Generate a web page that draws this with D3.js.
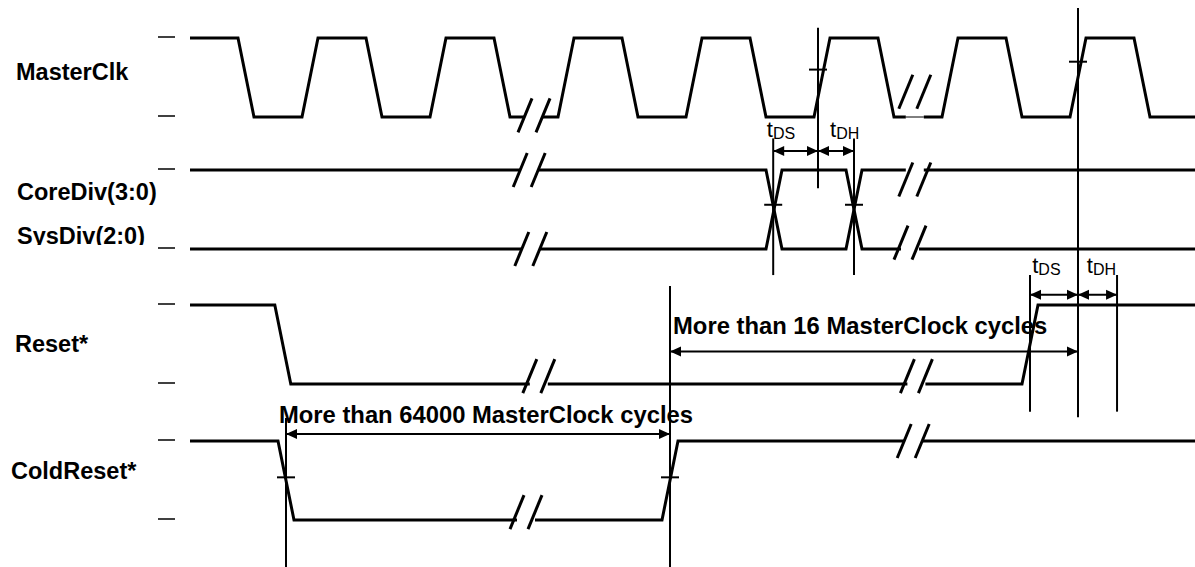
<!DOCTYPE html>
<html>
<head>
<meta charset="utf-8">
<script src="https://cdn.jsdelivr.net/npm/d3@7"></script>
<style>
  html, body { margin: 0; padding: 0; background: #fff; }
  svg { display: block; font-family: "Liberation Sans", Arial, sans-serif; }
</style>
</head>
<body>
<div id="chart"></div>
<script>
// time unit: one MasterClk period = 8 units, every edge takes 1 unit
const tEnd = 62.8125;
const rowNames = ["MasterClk", "CoreDiv(3:0)", "SysDiv(2:0)", "Reset*", "ColdReset*"];
const labelRow = [0, 1, 1, 2, 3];

// [start of edge, new level]
const clkEdges = [[3,0],[7,1],[11,0],[15,1],[19,0],[23,1],[27,0],[31,1],[35,0],[39,1],[43,0],[47,1],[51,0],[55,1],[59,0]];
const busChanges = [36, 41];
const resetEdges = [[5.3,0],[52,1]];
const coldResetEdges = [[5.5,0],[29.5,1]];

// time breaks "//" : row, time, level of the line, lift of the marks
const breaks = [
  {row:0, t:21.5, level:0, lift:0.02}, {row:0, t:45.3, level:0, lift:0.32, thin:true},
  {row:1, t:21.2, level:1, lift:0}, {row:1, t:21.3, level:0, lift:0},
  {row:1, t:45.3, level:1, lift:-0.12}, {row:1, t:45.0, level:0, lift:0.08},
  {row:2, t:21.8, level:0, lift:0.1}, {row:2, t:45.4, level:0, lift:0.1},
  {row:3, t:21.0, level:0, lift:0.1}, {row:3, t:45.2, level:1, lift:0}
];

// reference (measurement) lines
const refLines = [
  {t:39.25, r0:0, l0:1.13, r1:1, l1:0.77},
  {t:55.5,  r0:0, l0:1.38, r1:3, l1:1.3},
  {t:36.45, r0:1, l0:1.4,  r1:1, l1:-0.33},
  {t:41.5,  r0:1, l0:1.4,  r1:1, l1:-0.33},
  {t:52.5,  r0:2, l0:1.38, r1:2, l1:-0.35},
  {t:57.94, r0:2, l0:1.38, r1:2, l1:-0.35},
  {t:6,     r0:3, l0:1.29, r1:3, l1:-0.6},
  {t:30,    r0:2, l0:1.24, r1:3, l1:-0.6}
];
const crossTicks = [
  {t:39.25, row:0, level:0.6}, {t:55.5, row:0, level:0.7},
  {t:36.45, row:1, level:0.56}, {t:41.5, row:1, level:0.56},
  {t:6, row:3, level:0.54}, {t:30, row:3, level:0.54}
];
const dimArrows = [
  {t0:36.45, t1:39.25, row:1, level:1.24},
  {t0:39.25, t1:41.5,  row:1, level:1.24},
  {t0:30,    t1:55.5,  row:2, level:0.41},
  {t0:52.5,  t1:55.5,  row:2, level:1.13},
  {t0:55.5,  t1:57.94, row:2, level:1.13},
  {t0:6,     t1:30,    row:3, level:1.09}
];
const timingLabels = [
  {main:"t", sub:"DS", t:36.05, row:1, level:1.42},
  {main:"t", sub:"DH", t:40.0,  row:1, level:1.42},
  {main:"t", sub:"DS", t:52.64, row:2, level:1.41},
  {main:"t", sub:"DH", t:56.05, row:2, level:1.41}
];
const notes = [
  {text:"More than 16 MasterClock cycles",    t:30.19, row:2, level:0.63},
  {text:"More than 64000 MasterClock cycles", t:5.56,  row:3, level:1.23}
];

const W = 1195, H = 567;
const x = d3.scaleLinear().domain([0, tEnd]).range([190, W]);
const rowY = d3.scaleLinear().domain([0, 1, 2, 3]).range([38, 170, 305, 441]);
const amp = d3.scaleLinear().domain([1, 0]).range([0, 79]);
const yAt = (row, level) => rowY(row) + amp(level);

const svg = d3.select("#chart").append("svg")
  .attr("width", W).attr("height", H);
svg.append("rect").attr("width", W).attr("height", H).attr("fill", "#fff");

function edgePoints(edges, startLevel) {
  const pts = [[0, startLevel]];
  let lv = startLevel;
  edges.forEach(([t, to]) => {
    pts.push([t, lv]);
    pts.push([t + 1, to]);
    lv = to;
  });
  pts.push([tEnd, lv]);
  return pts;
}

const waves = [
  {row:0, pts: edgePoints(clkEdges, 1)},
  {row:1, pts: edgePoints(busChanges.map((t, i) => [t, i % 2 === 0 ? 0 : 1]), 1)},
  {row:1, pts: edgePoints(busChanges.map((t, i) => [t, i % 2 === 0 ? 1 : 0]), 0)},
  {row:2, pts: edgePoints(resetEdges, 1)},
  {row:3, pts: edgePoints(coldResetEdges, 1)}
];

svg.selectAll(".wave")
  .data(waves)
  .join("path")
  .attr("class", "wave")
  .attr("fill", "none")
  .attr("stroke", "#000")
  .attr("stroke-width", 3)
  .attr("stroke-linejoin", "miter")
  .attr("d", w => d3.line().x(d => x(d[0])).y(d => yAt(w.row, d[1]))(w.pts));

// left level ticks
const levelTicks = [];
[0, 1, 2, 3].forEach(r => [1, 0].forEach(l => levelTicks.push({row:r, level:l})));
svg.selectAll(".lvl")
  .data(levelTicks)
  .join("line")
  .attr("x1", 158).attr("x2", 175)
  .attr("y1", d => yAt(d.row, d.level) - 1)
  .attr("y2", d => yAt(d.row, d.level) - 1)
  .attr("stroke", "#000").attr("stroke-width", 1.5);

// breaks
const br = svg.selectAll(".brk").data(breaks).join("g").attr("class", "brk");
br.append("rect")
  .attr("x", d => x(d.t) - 9).attr("width", 18)
  .attr("y", d => yAt(d.row, d.level) - 3).attr("height", 6)
  .attr("fill", "#fff");
br.filter(d => d.thin).append("line")
  .attr("x1", d => x(d.t) - 9).attr("x2", d => x(d.t) + 9)
  .attr("y1", d => yAt(d.row, d.level)).attr("y2", d => yAt(d.row, d.level))
  .attr("stroke", "#000").attr("stroke-width", 1);
[-9, 9].forEach(off => {
  br.append("line")
    .attr("x1", d => x(d.t) + off - 7).attr("x2", d => x(d.t) + off + 7)
    .attr("y1", d => yAt(d.row, d.level + d.lift) + 17)
    .attr("y2", d => yAt(d.row, d.level + d.lift) - 17)
    .attr("stroke", "#000").attr("stroke-width", 3);
});

// reference lines
svg.selectAll(".ref")
  .data(refLines)
  .join("line")
  .attr("x1", d => x(d.t)).attr("x2", d => x(d.t))
  .attr("y1", d => yAt(d.r0, d.l0)).attr("y2", d => Math.min(H, yAt(d.r1, d.l1)))
  .attr("stroke", "#000").attr("stroke-width", 2);

svg.selectAll(".ctick")
  .data(crossTicks)
  .join("line")
  .attr("x1", d => x(d.t) - 9).attr("x2", d => x(d.t) + 9)
  .attr("y1", d => yAt(d.row, d.level)).attr("y2", d => yAt(d.row, d.level))
  .attr("stroke", "#000").attr("stroke-width", 2);

// dimension arrows
const head = (xt, y, dir) => {
  const L = 11, h = 5;
  return `M${xt},${y}L${xt - dir * L},${y - h}L${xt - dir * L},${y + h}Z`;
};
const da = svg.selectAll(".dim").data(dimArrows).join("g").attr("class", "dim");
da.append("line")
  .attr("x1", d => x(d.t0)).attr("x2", d => x(d.t1))
  .attr("y1", d => yAt(d.row, d.level)).attr("y2", d => yAt(d.row, d.level))
  .attr("stroke", "#000").attr("stroke-width", 2);
da.append("path").attr("d", d => head(x(d.t1), yAt(d.row, d.level), 1));
da.append("path").attr("d", d => head(x(d.t0), yAt(d.row, d.level), -1));

// tDS / tDH labels
const tl = svg.selectAll(".tl").data(timingLabels).join("text")
  .attr("x", d => x(d.t)).attr("y", d => yAt(d.row, d.level))
  .attr("font-size", 22).attr("fill", "#000");
tl.append("tspan").text(d => d.main);
tl.append("tspan").attr("font-size", 16).attr("dy", 2.5).text(d => d.sub);

// notes
svg.selectAll(".note").data(notes).join("text")
  .attr("x", d => x(d.t)).attr("y", d => yAt(d.row, d.level))
  .attr("font-size", 23.8).attr("font-weight", "bold")
  .text(d => d.text);

// row labels
const labelX = [16, 17, 17, 15, 11];
const labelLevel = [0.47, 0.62, 0.06, 0.41, 0.52];
svg.append("clipPath").attr("id", "cutSys")
  .append("rect").attr("x", 0).attr("y", 0).attr("width", 200).attr("height", 245);
svg.selectAll(".rl").data(rowNames).join("text")
  .attr("x", (d, i) => labelX[i])
  .attr("y", (d, i) => yAt(labelRow[i], labelLevel[i]))
  .attr("font-size", 23.5).attr("font-weight", "bold")
  .attr("clip-path", (d, i) => i === 2 ? "url(#cutSys)" : null)
  .text(d => d);
</script>
</body>
</html>
